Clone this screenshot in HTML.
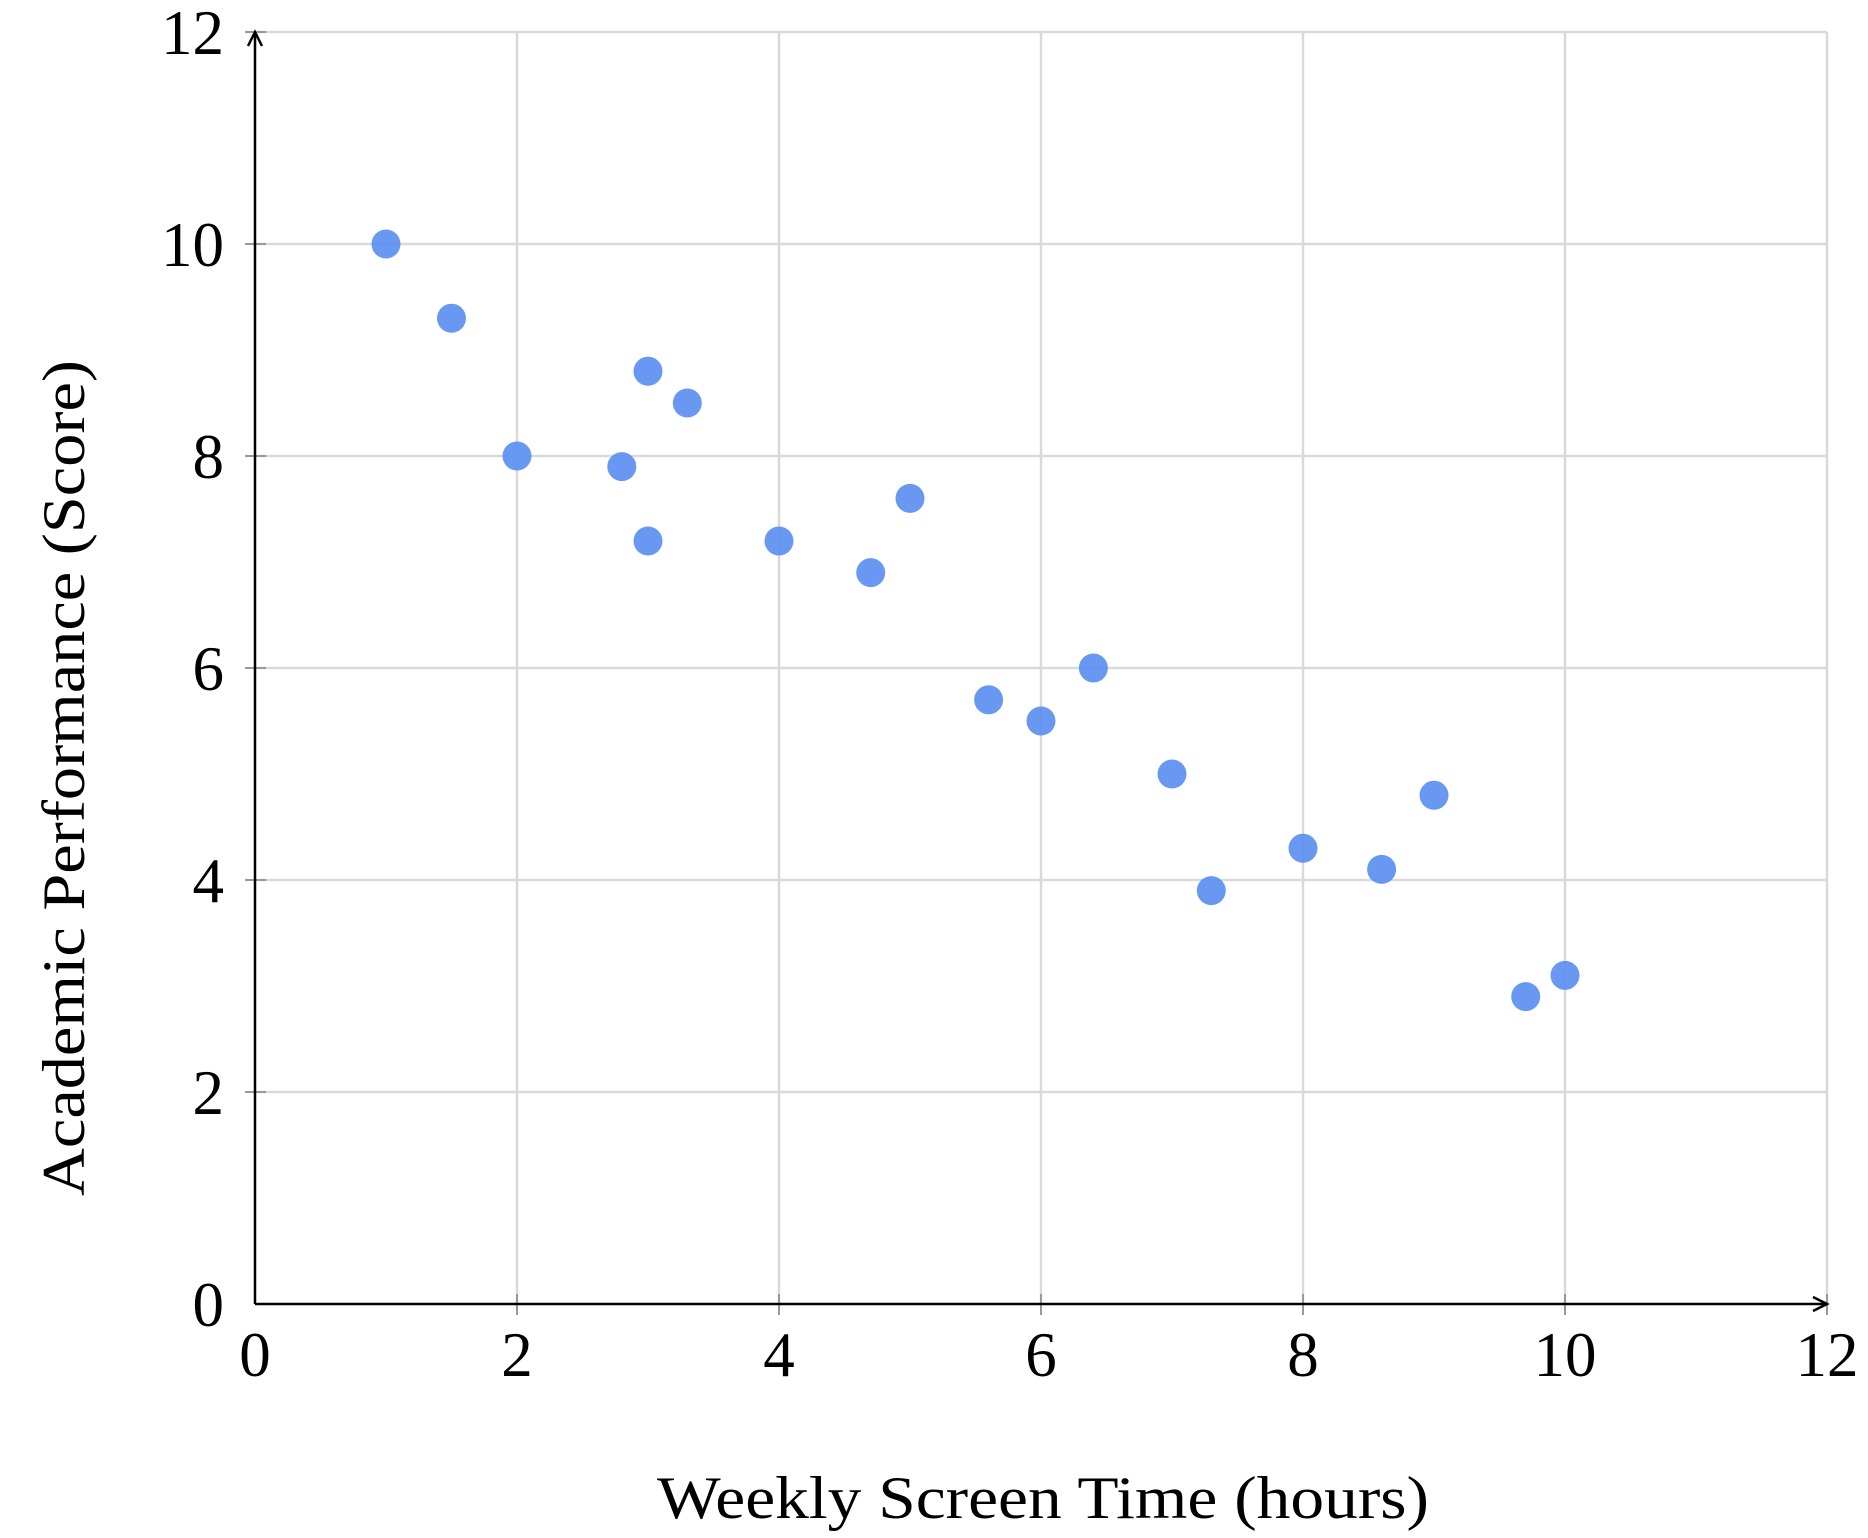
<!DOCTYPE html>
<html><head><meta charset="utf-8"><style>html,body{margin:0;padding:0;background:#fff}svg{display:block}</style></head>
<body>
<svg width="1868" height="1538" viewBox="0 0 1868 1538" xmlns="http://www.w3.org/2000/svg" font-family="'Liberation Serif', serif">
<g stroke="#d9d9d9" stroke-width="2.5">
<line x1="255" y1="32" x2="1827" y2="32"/>
<line x1="255" y1="244" x2="1827" y2="244"/>
<line x1="255" y1="456" x2="1827" y2="456"/>
<line x1="255" y1="668" x2="1827" y2="668"/>
<line x1="255" y1="880" x2="1827" y2="880"/>
<line x1="255" y1="1092" x2="1827" y2="1092"/>
<line x1="517" y1="32" x2="517" y2="1304"/>
<line x1="779" y1="32" x2="779" y2="1304"/>
<line x1="1041" y1="32" x2="1041" y2="1304"/>
<line x1="1303" y1="32" x2="1303" y2="1304"/>
<line x1="1565" y1="32" x2="1565" y2="1304"/>
<line x1="1827" y1="32" x2="1827" y2="1304"/>
</g>
<g stroke="#999" stroke-width="2">
<line x1="245" y1="32" x2="266" y2="32"/><line x1="245" y1="244" x2="266" y2="244"/><line x1="245" y1="456" x2="266" y2="456"/><line x1="245" y1="668" x2="266" y2="668"/><line x1="245" y1="880" x2="266" y2="880"/><line x1="245" y1="1092" x2="266" y2="1092"/>
<line x1="517" y1="1294" x2="517" y2="1315"/><line x1="779" y1="1294" x2="779" y2="1315"/><line x1="1041" y1="1294" x2="1041" y2="1315"/><line x1="1303" y1="1294" x2="1303" y2="1315"/><line x1="1565" y1="1294" x2="1565" y2="1315"/><line x1="1827" y1="1294" x2="1827" y2="1315"/>
</g>
<g stroke="#000" stroke-width="2.5" fill="none">
<line x1="255" y1="1304" x2="1825" y2="1304"/>
<line x1="255" y1="1304" x2="255" y2="34"/>
<path d="M1813 1297 L1827 1304 L1813 1311"/>
<path d="M248 46 L255 32 L262 46"/>
</g>
<g fill="#5b8ff0" fill-opacity="0.92">
<circle cx="386" cy="244" r="14.5"/>
<circle cx="451.5" cy="318.2" r="14.5"/>
<circle cx="517" cy="456" r="14.5"/>
<circle cx="621.8" cy="466.6" r="14.5"/>
<circle cx="648" cy="371.2" r="14.5"/>
<circle cx="648" cy="541" r="14.5"/>
<circle cx="687.3" cy="403" r="14.5"/>
<circle cx="779" cy="541" r="14.5"/>
<circle cx="870.7" cy="572.6" r="14.5"/>
<circle cx="910" cy="498.4" r="14.5"/>
<circle cx="988.6" cy="699.8" r="14.5"/>
<circle cx="1041" cy="721" r="14.5"/>
<circle cx="1093.4" cy="668" r="14.5"/>
<circle cx="1172" cy="774" r="14.5"/>
<circle cx="1211.3" cy="890.6" r="14.5"/>
<circle cx="1303" cy="848.2" r="14.5"/>
<circle cx="1381.6" cy="869.4" r="14.5"/>
<circle cx="1434" cy="795.2" r="14.5"/>
<circle cx="1525.7" cy="996.6" r="14.5"/>
<circle cx="1565" cy="975.4" r="14.5"/>
</g>
<g font-size="63" fill="#000" text-anchor="end">
<text x="224" y="54">12</text><text x="224" y="266">10</text><text x="224" y="478">8</text><text x="224" y="690">6</text><text x="224" y="902">4</text><text x="224" y="1114">2</text><text x="224" y="1326">0</text>
</g>
<g font-size="63" fill="#000" text-anchor="middle">
<text x="255" y="1376">0</text><text x="517" y="1376">2</text><text x="779" y="1376">4</text><text x="1041" y="1376">6</text><text x="1303" y="1376">8</text><text x="1565" y="1376">10</text><text x="1827" y="1376">12</text>
</g>
<text x="1043" y="1518" font-size="60" text-anchor="middle" textLength="772" lengthAdjust="spacingAndGlyphs">Weekly Screen Time (hours)</text>
<text transform="translate(84,778) rotate(-90)" font-size="60" text-anchor="middle" textLength="836" lengthAdjust="spacingAndGlyphs">Academic Performance (Score)</text>
</svg>
</body></html>
